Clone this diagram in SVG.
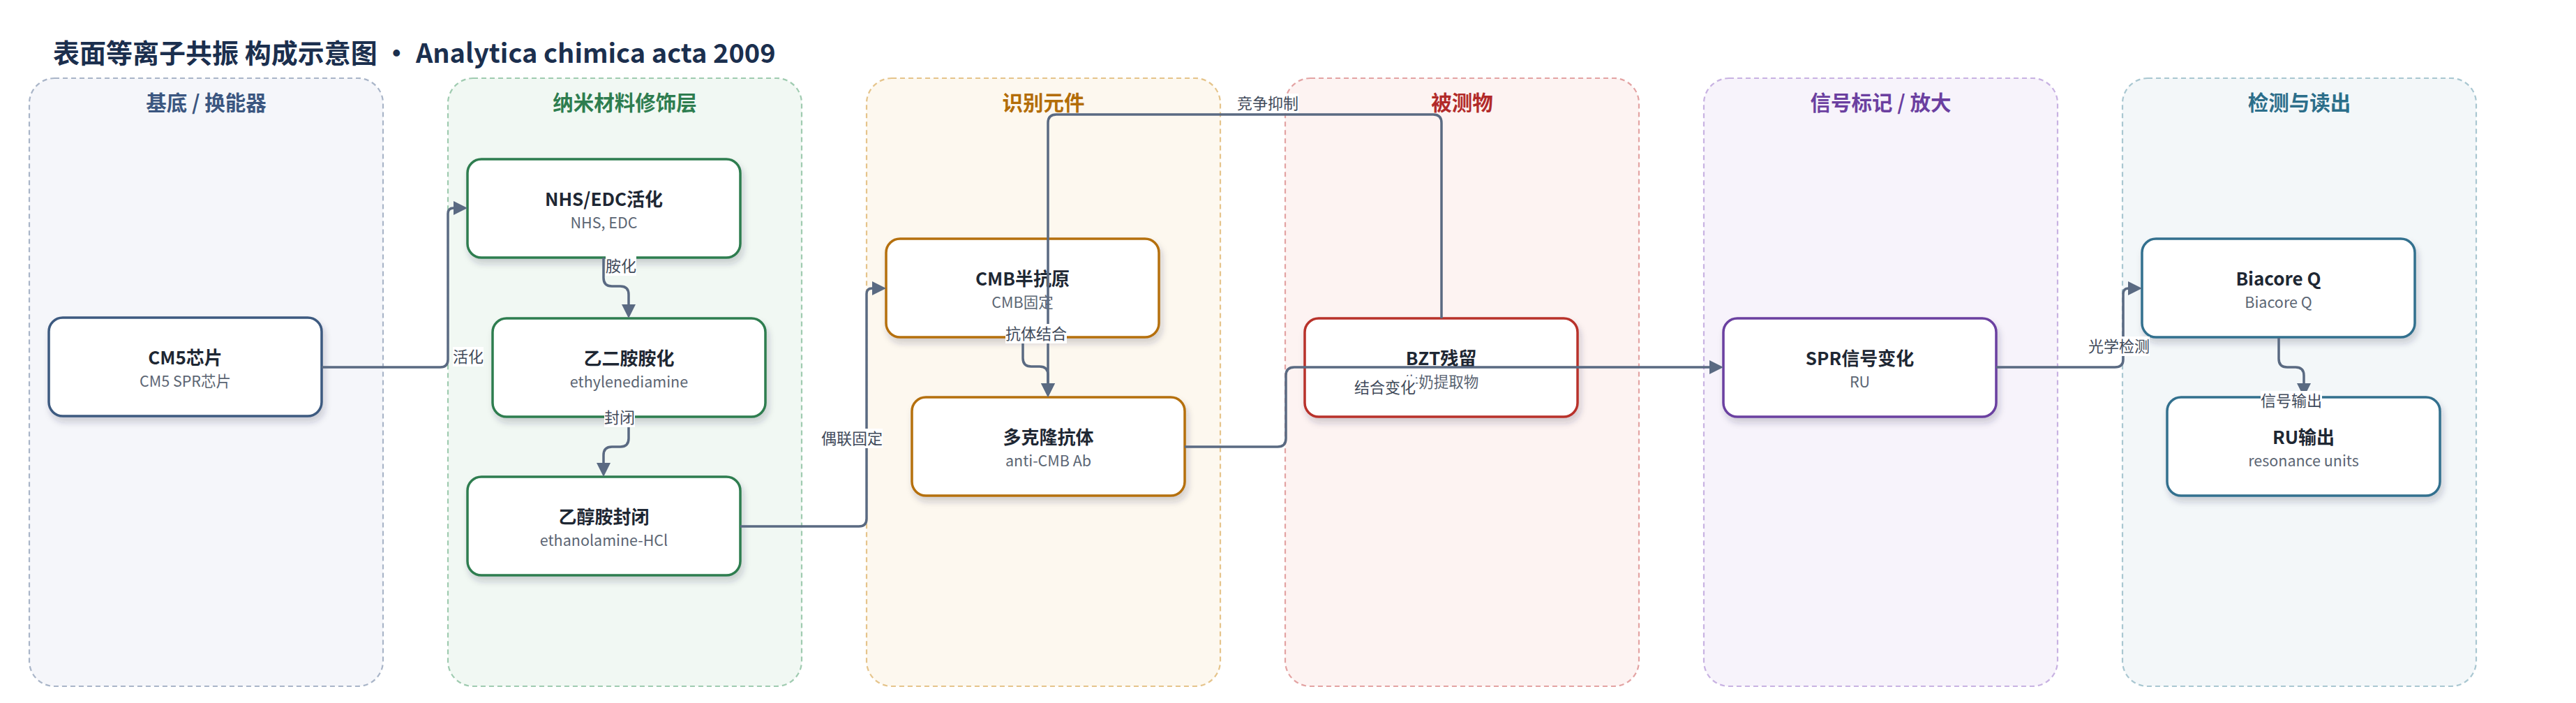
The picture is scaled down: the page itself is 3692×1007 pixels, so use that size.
<svg xmlns="http://www.w3.org/2000/svg" width="3692" height="1007" viewBox="0 0 3692 1007">
<defs>
<filter id="sh" x="-10%" y="-10%" width="125%" height="135%">
<feDropShadow dx="3" dy="7" stdDeviation="5" flood-color="#1a2b48" flood-opacity="0.2"/>
</filter>
<marker id="arr" markerUnits="userSpaceOnUse" markerWidth="20" markerHeight="20" refX="2" refY="10" orient="auto">
<path d="M0,0 L20,10 L0,20 Z" fill="#5a6a82"/>
</marker>
</defs>
<style>
text{font-family:"Noto Sans CJK SC","Noto Sans",sans-serif;}
.title{font-size:38px;font-weight:700;fill:#1b2f4e;}
.lane{stroke-width:2.2;stroke-dasharray:7 5;}
.lh{font-size:29.5px;font-weight:700;text-anchor:middle;}
.node{fill:#ffffff;stroke-width:3.5;filter:url(#sh);}
.nt{font-size:26px;font-weight:700;fill:#1e2733;text-anchor:middle;}
.ns{font-size:21.5px;fill:#5b6573;text-anchor:middle;}
.edge{fill:none;stroke:#5a6a82;stroke-width:3.5;marker-end:url(#arr);}
.lb{fill:#ffffff;}
.lt{font-size:22px;fill:#3f4a5a;text-anchor:middle;}
</style>
<rect width="3692" height="1007" fill="#ffffff"/>
<text class="title" x="76" y="90">表面等离子共振 构成示意图 · Analytica chimica acta 2009</text>

<g id="lanes">
<g id="lane-substrate">
<rect class="lane" x="42" y="112" width="507" height="871" rx="36" fill="#f5f6fa" stroke="#a9b5c8"/>
<text class="lh" x="295.5" y="158" fill="#3b5680">基底 / 换能器</text>
</g>
<g id="lane-nano">
<rect class="lane" x="642" y="112" width="507" height="871" rx="36" fill="#f1f8f3" stroke="#9fcbb0"/>
<text class="lh" x="895.5" y="158" fill="#2e7d4f">纳米材料修饰层</text>
</g>
<g id="lane-recog">
<rect class="lane" x="1242" y="112" width="507" height="871" rx="36" fill="#fdf8ef" stroke="#e5c48b"/>
<text class="lh" x="1495.5" y="158" fill="#b36d08">识别元件</text>
</g>
<g id="lane-analyte">
<rect class="lane" x="1842" y="112" width="507" height="871" rx="36" fill="#fdf3f2" stroke="#e3a3a3"/>
<text class="lh" x="2095.5" y="158" fill="#b22a2a">被测物</text>
</g>
<g id="lane-signal">
<rect class="lane" x="2442" y="112" width="507" height="871" rx="36" fill="#f7f3fb" stroke="#c8b2e2"/>
<text class="lh" x="2695.5" y="158" fill="#6b3fa0">信号标记 / 放大</text>
</g>
<g id="lane-readout">
<rect class="lane" x="3042" y="112" width="507" height="871" rx="36" fill="#f3f7f9" stroke="#a9c7d1"/>
<text class="lh" x="3295.5" y="158" fill="#2c6e8a">检测与读出</text>
</g>
</g>

<g id="nodes">
<g id="n-cm5">
<rect class="node" x="70" y="455" width="391" height="141" rx="20" stroke="#3d5a80"/>
<text class="nt" x="265.5" y="522">CM5芯片</text>
<text class="ns" x="265.5" y="554">CM5 SPR芯片</text>
</g>
<g id="n-nhs">
<rect class="node" x="670" y="228" width="391" height="141" rx="20" stroke="#2e7d4f"/>
<text class="nt" x="865.5" y="295">NHS/EDC活化</text>
<text class="ns" x="865.5" y="327">NHS, EDC</text>
</g>
<g id="n-eda">
<rect class="node" x="706" y="456" width="391" height="141" rx="20" stroke="#2e7d4f"/>
<text class="nt" x="901.5" y="523">乙二胺胺化</text>
<text class="ns" x="901.5" y="555">ethylenediamine</text>
</g>
<g id="n-eth">
<rect class="node" x="670" y="683" width="391" height="141" rx="20" stroke="#2e7d4f"/>
<text class="nt" x="865.5" y="750">乙醇胺封闭</text>
<text class="ns" x="865.5" y="782">ethanolamine-HCl</text>
</g>
<g id="n-cmb">
<rect class="node" x="1270" y="342" width="391" height="141" rx="20" stroke="#b5700d"/>
<text class="nt" x="1465.5" y="409">CMB半抗原</text>
<text class="ns" x="1465.5" y="441">CMB固定</text>
</g>
<g id="n-ab">
<rect class="node" x="1307" y="569" width="391" height="141" rx="20" stroke="#b5700d"/>
<text class="nt" x="1502.5" y="636">多克隆抗体</text>
<text class="ns" x="1502.5" y="668">anti-CMB Ab</text>
</g>
<g id="n-bzt">
<rect class="node" x="1870" y="456" width="391" height="141" rx="20" stroke="#b8302a"/>
<text class="nt" x="2065.5" y="523">BZT残留</text>
<text class="ns" x="2065.5" y="555">牛奶提取物</text>
</g>
<g id="n-spr">
<rect class="node" x="2470" y="456" width="391" height="141" rx="20" stroke="#6b3fa0"/>
<text class="nt" x="2665.5" y="523">SPR信号变化</text>
<text class="ns" x="2665.5" y="555">RU</text>
</g>
<g id="n-bia">
<rect class="node" x="3070" y="342" width="391" height="141" rx="20" stroke="#33708e"/>
<text class="nt" x="3265.5" y="409">Biacore Q</text>
<text class="ns" x="3265.5" y="441">Biacore Q</text>
</g>
<g id="n-ru">
<rect class="node" x="3106" y="569" width="391" height="141" rx="20" stroke="#33708e"/>
<text class="nt" x="3301.5" y="636">RU输出</text>
<text class="ns" x="3301.5" y="668">resonance units</text>
</g>
</g>

<g id="connectors">
<path class="edge" d="M461,526 H631 Q642,526 642,515 V306 Q642,298 650,298 H652"/>
<path class="edge" d="M865,369 V398 Q865,410 877,410 H889 Q901,410 901,422 V438"/>
<path class="edge" d="M901,597 V628 Q901,640 889,640 H877 Q865,640 865,652 V665"/>
<path class="edge" d="M1061,754 H1231 Q1242,754 1242,743 V421 Q1242,413 1250,413 H1252"/>
<path class="edge" d="M1466,483 V513 Q1466,525 1478,525 H1490 Q1502,525 1502,537 V551"/>
<path class="edge" d="M2066,456 V176 Q2066,164 2054,164 H1514 Q1502,164 1502,176 V551"/>
<path class="edge" d="M1698,640 H1831 Q1843,640 1843,628 V538 Q1843,526 1855,526 H2452"/>
<path class="edge" d="M2861,526 H3031 Q3043,526 3043,515 V421 Q3043,413 3051,413 H3052"/>
<path class="edge" d="M3266,484 V514 Q3266,526 3278,526 H3290 Q3302,526 3302,538 V551"/>
<g id="edge-labels">
<rect class="lb" x="649" y="497" width="44" height="28"/><text class="lt" x="671" y="519">活化</text>
<rect class="lb" x="868" y="367" width="44" height="28"/><text class="lt" x="890" y="389">胺化</text>
<rect class="lb" x="866" y="584" width="44" height="28"/><text class="lt" x="888" y="606">封闭</text>
<rect class="lb" x="1177" y="614" width="88" height="28"/><text class="lt" x="1221" y="636">偶联固定</text>
<rect class="lb" x="1441" y="464" width="88" height="28"/><text class="lt" x="1485" y="486">抗体结合</text>
<rect class="lb" x="1773" y="134" width="88" height="28"/><text class="lt" x="1817" y="156">竞争抑制</text>
<rect class="lb" x="1941" y="539" width="88" height="28"/><text class="lt" x="1985" y="563">结合变化</text>
<rect class="lb" x="2993" y="482" width="88" height="28"/><text class="lt" x="3037" y="504">光学检测</text>
<rect class="lb" x="3240" y="560" width="88" height="28"/><text class="lt" x="3284" y="582">信号输出</text>
</g>
</g>
</svg>
